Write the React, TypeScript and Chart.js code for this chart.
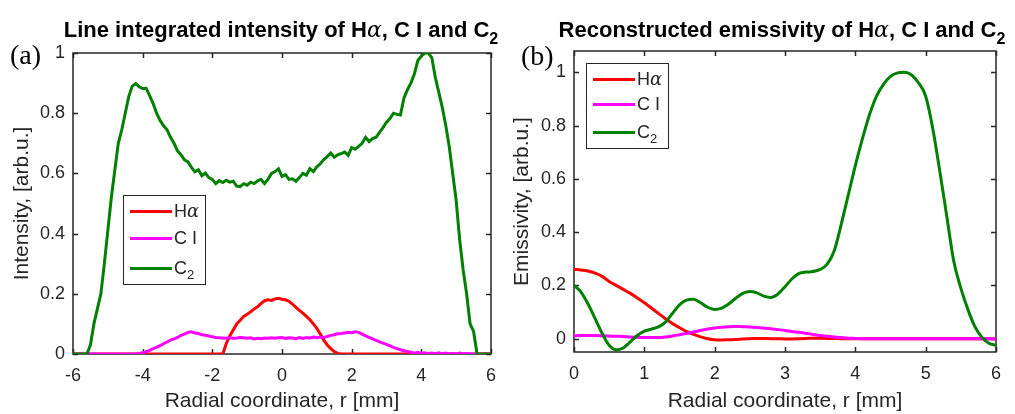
import React, { useEffect, useRef } from 'react';
import { Chart, registerables } from 'chart.js';
Chart.register(...registerables);

// ---------- Panel (a): line integrated intensity ----------
const A_X = [
  -6, -5.9, -5.8, -5.7, -5.6, -5.5, -5.4, -5.3, -5.2, -5.1,
  -5, -4.9, -4.8, -4.7, -4.6, -4.5, -4.4, -4.3, -4.2, -4.1,
  -4, -3.9, -3.8, -3.7, -3.6, -3.5, -3.4, -3.3, -3.2, -3.1,
  -3, -2.9, -2.8, -2.7, -2.6, -2.5, -2.4, -2.3, -2.2, -2.1,
  -2, -1.9, -1.8, -1.7, -1.6, -1.5, -1.4, -1.3, -1.2, -1.1,
  -1, -0.9, -0.8, -0.7, -0.6, -0.5, -0.4, -0.3, -0.2, -0.1,
  0, 0.1, 0.2, 0.3, 0.4, 0.5, 0.6, 0.7, 0.8, 0.9,
  1, 1.1, 1.2, 1.3, 1.4, 1.5, 1.6, 1.7, 1.8, 1.9,
  2, 2.1, 2.2, 2.3, 2.4, 2.5, 2.6, 2.7, 2.8, 2.9,
  3, 3.1, 3.2, 3.3, 3.4, 3.5, 3.6, 3.7, 3.8, 3.9,
  4, 4.1, 4.2, 4.3, 4.4, 4.5, 4.6, 4.7, 4.8, 4.9,
  5, 5.1, 5.2, 5.3, 5.4, 5.5, 5.6, 5.7, 5.8, 5.9,
  6,
];
const A_HALPHA = [
  0, 0, 0, 0, 0, 0, 0, 0, 0, 0,
  0, 0, 0, 0, 0, 0, 0, 0, 0, 0,
  0, 0, 0, 0, 0, 0, 0, 0, 0, 0,
  0, 0, 0, 0, 0, 0, 0, 0, 0, 0,
  0, 0, 0, 0, 0.035, 0.06, 0.08, 0.1, 0.112, 0.125,
  0.132, 0.14, 0.15, 0.157, 0.168, 0.177, 0.18, 0.178, 0.183, 0.185,
  0.182, 0.18, 0.175, 0.166, 0.155, 0.145, 0.136, 0.125, 0.114, 0.1,
  0.085, 0.066, 0.046, 0.03, 0.018, 0.008, 0.002, 0, 0, 0,
  0, 0, 0, 0, 0, 0, 0, 0, 0, 0,
  0, 0, 0, 0, 0, 0, 0, 0, 0, 0,
  0, 0, 0, 0, 0, 0, 0, 0, 0, 0,
  0, 0, 0, 0, 0, 0, 0, 0, 0, 0,
  0,
];
const A_CI = [
  0, 0, 0, 0, 0, 0, 0, 0, 0, 0,
  0, 0, 0, 0, 0, 0, 0, 0, 0, 0.002,
  0.004, 0.008, 0.012, 0.018, 0.022, 0.028, 0.034, 0.04, 0.046, 0.05,
  0.055, 0.062, 0.066, 0.072, 0.074, 0.07, 0.068, 0.064, 0.062, 0.06,
  0.057, 0.055, 0.054, 0.053, 0.052, 0.054, 0.052, 0.053, 0.055, 0.054,
  0.052, 0.054, 0.05, 0.052, 0.051, 0.053, 0.052, 0.054, 0.052, 0.054,
  0.055, 0.052, 0.054, 0.053, 0.051, 0.055, 0.052, 0.055, 0.053, 0.056,
  0.054, 0.056, 0.055, 0.058, 0.062, 0.064, 0.067, 0.068, 0.07, 0.072,
  0.071, 0.074, 0.072, 0.066, 0.06, 0.055, 0.05, 0.045, 0.04, 0.036,
  0.032, 0.027, 0.022, 0.018, 0.014, 0.011, 0.008, 0.006, 0.003, 0.006,
  0.002, 0.004, 0, 0.003, 0.001, 0.004, 0, 0.003, 0, 0.002,
  0, 0.003, 0, 0.002, 0, 0, 0, 0, 0, 0,
  0,
];
const A_C2 = [
  0, 0, 0, 0, 0, 0.03, 0.1, 0.15, 0.2, 0.3,
  0.41, 0.52, 0.61, 0.7, 0.745, 0.8, 0.855, 0.89, 0.898, 0.888,
  0.882, 0.883, 0.858, 0.832, 0.8, 0.776, 0.758, 0.745, 0.72, 0.7,
  0.675, 0.662, 0.645, 0.638, 0.62, 0.605, 0.612, 0.592, 0.601, 0.586,
  0.58, 0.566, 0.576, 0.57, 0.577, 0.571, 0.574, 0.558, 0.556, 0.566,
  0.561, 0.571, 0.566, 0.575, 0.58, 0.566, 0.581, 0.6, 0.606, 0.615,
  0.59, 0.596, 0.58, 0.582, 0.574, 0.586, 0.6, 0.594, 0.616, 0.606,
  0.622, 0.632, 0.646, 0.656, 0.668, 0.654, 0.662, 0.666, 0.671, 0.66,
  0.686, 0.68, 0.69, 0.7, 0.72, 0.706, 0.716, 0.72, 0.736, 0.752,
  0.77, 0.782, 0.8, 0.796, 0.794, 0.85, 0.878, 0.9, 0.93, 0.975,
  0.99, 1.0, 1.0, 0.985, 0.92, 0.87, 0.82, 0.76, 0.69, 0.6,
  0.51, 0.38, 0.28, 0.2, 0.1, 0.075, 0, 0, 0, 0,
  0,
];
const A_X_TICKS = [-6, -4, -2, 0, 2, 4, 6];
const A_X_LABELS = ['-6', '-4', '-2', '0', '2', '4', '6'];
const A_Y_TICKS = [0, 0.2, 0.4, 0.6, 0.8, 1];
const A_Y_LABELS = ['0', '0.2', '0.4', '0.6', '0.8', '1'];

// ---------- Panel (b): reconstructed emissivity ----------
const B_X = [
  0, 0.1, 0.2, 0.3, 0.4, 0.5, 0.6, 0.7, 0.8, 0.9,
  1, 1.1, 1.2, 1.3, 1.4, 1.5, 1.6, 1.7, 1.8, 1.9,
  2, 2.1, 2.2, 2.3, 2.4, 2.5, 2.6, 2.7, 2.8, 2.9,
  3, 3.1, 3.2, 3.3, 3.4, 3.5, 3.6, 3.7, 3.8, 3.9,
  4, 4.1, 4.2, 4.3, 4.4, 4.5, 4.6, 4.7, 4.8, 4.9,
  5, 5.1, 5.2, 5.3, 5.4, 5.5, 5.6, 5.7, 5.8, 5.9,
  6,
];
const B_HALPHA = [
  0.26, 0.258, 0.254, 0.246, 0.234, 0.215, 0.2, 0.185, 0.17, 0.153,
  0.135, 0.115, 0.095, 0.075, 0.057, 0.041, 0.027, 0.016, 0.007, 0,
  -0.004, -0.005, -0.004, -0.003, -0.001, 0, 0.001, 0.001, 0, 0,
  -0.001, -0.001, 0, 0.001, 0.002, 0.002, 0.001, 0.001, 0, 0,
  0, 0, 0, 0, 0, 0, 0, 0, 0, 0,
  0, 0, 0, 0, 0, 0, 0, 0, 0, 0,
  0,
];
const B_CI = [
  0.011, 0.012, 0.012, 0.012, 0.011, 0.01, 0.009, 0.008, 0.006, 0.005,
  0.004, 0.004, 0.004, 0.006, 0.01, 0.015, 0.02, 0.025, 0.031, 0.036,
  0.04, 0.043, 0.045, 0.046, 0.045, 0.044, 0.042, 0.04, 0.037, 0.034,
  0.031, 0.027, 0.024, 0.02, 0.016, 0.012, 0.009, 0.006, 0.004, 0.002,
  0.001, 0, 0, 0, 0, 0, 0, 0, 0, 0,
  0, 0, 0, 0, 0, 0, 0, 0, 0, 0,
  0,
];
const B_C2 = [
  0.2, 0.175, 0.13, 0.075, 0.02, -0.025, -0.042, -0.035, -0.012, 0.012,
  0.028, 0.036, 0.044, 0.062, 0.095, 0.127, 0.145, 0.148, 0.135, 0.118,
  0.11, 0.115, 0.13, 0.152, 0.17, 0.177, 0.172, 0.16, 0.155, 0.168,
  0.195, 0.225, 0.245, 0.25, 0.252, 0.26, 0.28, 0.33, 0.43, 0.54,
  0.65, 0.75, 0.84, 0.91, 0.955, 0.985, 0.998, 1.0, 0.99, 0.96,
  0.91, 0.79, 0.63, 0.46, 0.29, 0.19, 0.11, 0.045, 0.005, -0.017,
  -0.025,
];
const B_X_TICKS = [0, 1, 2, 3, 4, 5, 6];
const B_X_LABELS = ['0', '1', '2', '3', '4', '5', '6'];
const B_Y_TICKS = [0, 0.2, 0.4, 0.6, 0.8, 1];
const B_Y_LABELS = ['0', '0.2', '0.4', '0.6', '0.8', '1'];

const RED = '#ff0000';
const MAGENTA = '#ff00ff';
const GREEN = '#008000';
const AXIS = '#262626';
const SANS = '"Liberation Sans", Arial, Helvetica, sans-serif';

const framePlugin = {
  id: 'matlabFrame',
  beforeDatasetsDraw(chart: any) {
    const { ctx, chartArea, scales } = chart;
    const { left, right, top, bottom } = chartArea;
    ctx.save();
    ctx.strokeStyle = AXIS;
    ctx.lineWidth = 1.5;
    ctx.strokeRect(left, top, right - left, bottom - top);
    const tl = 5;
    ctx.beginPath();
    scales.x.ticks.forEach((t: any) => {
      const px = Math.round(scales.x.getPixelForValue(t.value)) + 0.5;
      ctx.moveTo(px, bottom);
      ctx.lineTo(px, bottom - tl);
      ctx.moveTo(px, top);
      ctx.lineTo(px, top + tl);
    });
    scales.y.ticks.forEach((t: any) => {
      const py = Math.round(scales.y.getPixelForValue(t.value)) + 0.5;
      ctx.moveTo(left, py);
      ctx.lineTo(left + tl, py);
      ctx.moveTo(right, py);
      ctx.lineTo(right - tl, py);
    });
    ctx.stroke();
    ctx.restore();
  },
};

function pts(xs: number[], ys: number[]) {
  return xs.map((x, i) => ({ x, y: ys[i] }));
}

function makeConfig(p: any) {
  const line = (label: string, ys: number[], color: string, order: number) => ({
    label,
    data: pts(p.xs, ys),
    borderColor: color,
    backgroundColor: color,
    borderWidth: 3,
    pointRadius: 0,
    tension: p.smooth ? 0.4 : 0,
    cubicInterpolationMode: p.smooth ? 'monotone' : 'default',
    order,
  });
  return {
    type: 'line',
    data: {
      datasets: [
        line('Hα', p.h, RED, 3),
        line('C I', p.c1, MAGENTA, 2),
        line('C2', p.c2, GREEN, 1),
      ],
    },
    options: {
      animation: false,
      responsive: false,
      maintainAspectRatio: false,
      layout: { padding: p.padding },
      plugins: { legend: { display: false }, tooltip: { enabled: false }, title: { display: false } },
      scales: {
        x: {
          type: 'linear',
          min: p.xMin,
          max: p.xMax,
          afterBuildTicks: (s: any) => { s.ticks = p.xTicks.map((v: number) => ({ value: v })); },
          afterFit: (s: any) => { s.height = p.xHeight; },
          grid: { display: false, drawTicks: false },
          border: { display: false },
          ticks: {
            color: AXIS,
            font: { family: SANS, size: 18 },
            padding: 11,
            maxRotation: 0,
            autoSkip: false,
            callback: (_v: any, i: number) => p.xLabels[i],
          },
          title: {
            display: true,
            text: 'Radial coordinate, r [mm]',
            color: AXIS,
            font: { family: SANS, size: 21 },
            padding: { top: 0, bottom: 0 },
          },
        },
        y: {
          type: 'linear',
          min: p.yMin,
          max: p.yMax,
          afterBuildTicks: (s: any) => { s.ticks = p.yTicks.map((v: number) => ({ value: v })); },
          afterFit: (s: any) => { s.width = p.yWidth; },
          grid: { display: false, drawTicks: false },
          border: { display: false },
          ticks: {
            color: AXIS,
            font: { family: SANS, size: 18 },
            padding: 8,
            autoSkip: false,
            callback: (_v: any, i: number) => p.yLabels[i],
          },
          title: {
            display: true,
            text: p.yTitle,
            color: AXIS,
            font: { family: SANS, size: 21 },
            padding: { top: 0, bottom: 0 },
          },
        },
      },
    },
    plugins: [framePlugin],
  };
}

const alpha = <span style={{ fontStyle: 'italic', fontWeight: 'normal', fontFamily: '"DejaVu Serif", serif' }}>α</span>;

function Legend({ left, top, rows: rowY, height }: any) {
  const rows = [
    { color: RED, label: <>H{alpha}</> },
    { color: MAGENTA, label: <>C I</> },
    { color: GREEN, label: <>C<sub style={{ fontSize: 13, verticalAlign: -5 }}>2</sub></> },
  ];
  return (
    <div style={{ position: 'absolute', left, top, width: 83, height, background: '#fff', border: `1.5px solid ${AXIS}`, boxSizing: 'border-box' }}>
      {rows.map((r, i) => (
        <div key={i} style={{ position: 'absolute', left: 0, top: rowY[i], height: 0 }}>
          <div style={{ position: 'absolute', left: 6, top: -1.5, width: 42, height: 3, background: r.color }} />
          <div style={{ position: 'absolute', left: 50, top: -11, fontSize: 18, lineHeight: '22px', color: AXIS, whiteSpace: 'nowrap', fontFamily: SANS }}>{r.label}</div>
        </div>
      ))}
    </div>
  );
}

export default function App() {
  const aRef = useRef<HTMLCanvasElement>(null);
  const bRef = useRef<HTMLCanvasElement>(null);

  useEffect(() => {
    const a = new Chart(aRef.current as any, makeConfig({
      xs: A_X, h: A_HALPHA, c1: A_CI, c2: A_C2, smooth: false,
      xMin: -6, xMax: 6, yMin: 0, yMax: 1,
      xTicks: A_X_TICKS, xLabels: A_X_LABELS, yTicks: A_Y_TICKS, yLabels: A_Y_LABELS,
      yTitle: 'Intensity, [arb.u.]',
      padding: { left: 10, top: 53, right: 10, bottom: 0 },
      yWidth: 63, xHeight: 60,
    }) as any);
    const b = new Chart(bRef.current as any, makeConfig({
      xs: B_X, h: B_HALPHA, c1: B_CI, c2: B_C2, smooth: true,
      xMin: 0, xMax: 6, yMin: -0.05, yMax: 1.08,
      xTicks: B_X_TICKS, xLabels: B_X_LABELS, yTicks: B_Y_TICKS, yLabels: B_Y_LABELS,
      yTitle: 'Emissivity, [arb.u.]',
      padding: { left: 3, top: 51, right: 19, bottom: 0 },
      yWidth: 64, xHeight: 62,
    }) as any);
    return () => { a.destroy(); b.destroy(); };
  }, []);

  const titleStyle: any = {
    position: 'absolute', top: 17, transform: 'translateX(-50%)', whiteSpace: 'nowrap',
    fontFamily: SANS, fontWeight: 'bold', fontSize: 22, lineHeight: '26px', color: '#000',
  };
  const sub = <sub style={{ fontSize: 16, verticalAlign: -7 }}>2</sub>;

  return (
    <div style={{ position: 'absolute', left: 0, top: 0, width: 1015, height: 414, background: '#fff', overflow: 'hidden' }}>
      <canvas ref={aRef} width={507} height={414} style={{ position: 'absolute', left: 0, top: 0, width: 507, height: 414 }} />
      <canvas ref={bRef} width={508} height={414} style={{ position: 'absolute', left: 507, top: 0, width: 508, height: 414 }} />
      <div style={{ ...titleStyle, left: 281 }}>Line integrated intensity of H{alpha}, C I and C{sub}</div>
      <div style={{ ...titleStyle, left: 782 }}>Reconstructed emissivity of H{alpha}, C I and C{sub}</div>
      <div style={{ position: 'absolute', left: 10, top: 38, fontFamily: '"Liberation Serif", "Times New Roman", serif', fontSize: 28, lineHeight: '34px', color: '#000' }}>(a)</div>
      <div style={{ position: 'absolute', left: 521, top: 39, fontFamily: '"Liberation Serif", "Times New Roman", serif', fontSize: 28, lineHeight: '34px', color: '#000' }}>(b)</div>
      <Legend left={123} top={195} rows={[15, 42, 72]} height={90} />
      <Legend left={586} top={63} rows={[15, 40, 68]} height={86} />
    </div>
  );
}
